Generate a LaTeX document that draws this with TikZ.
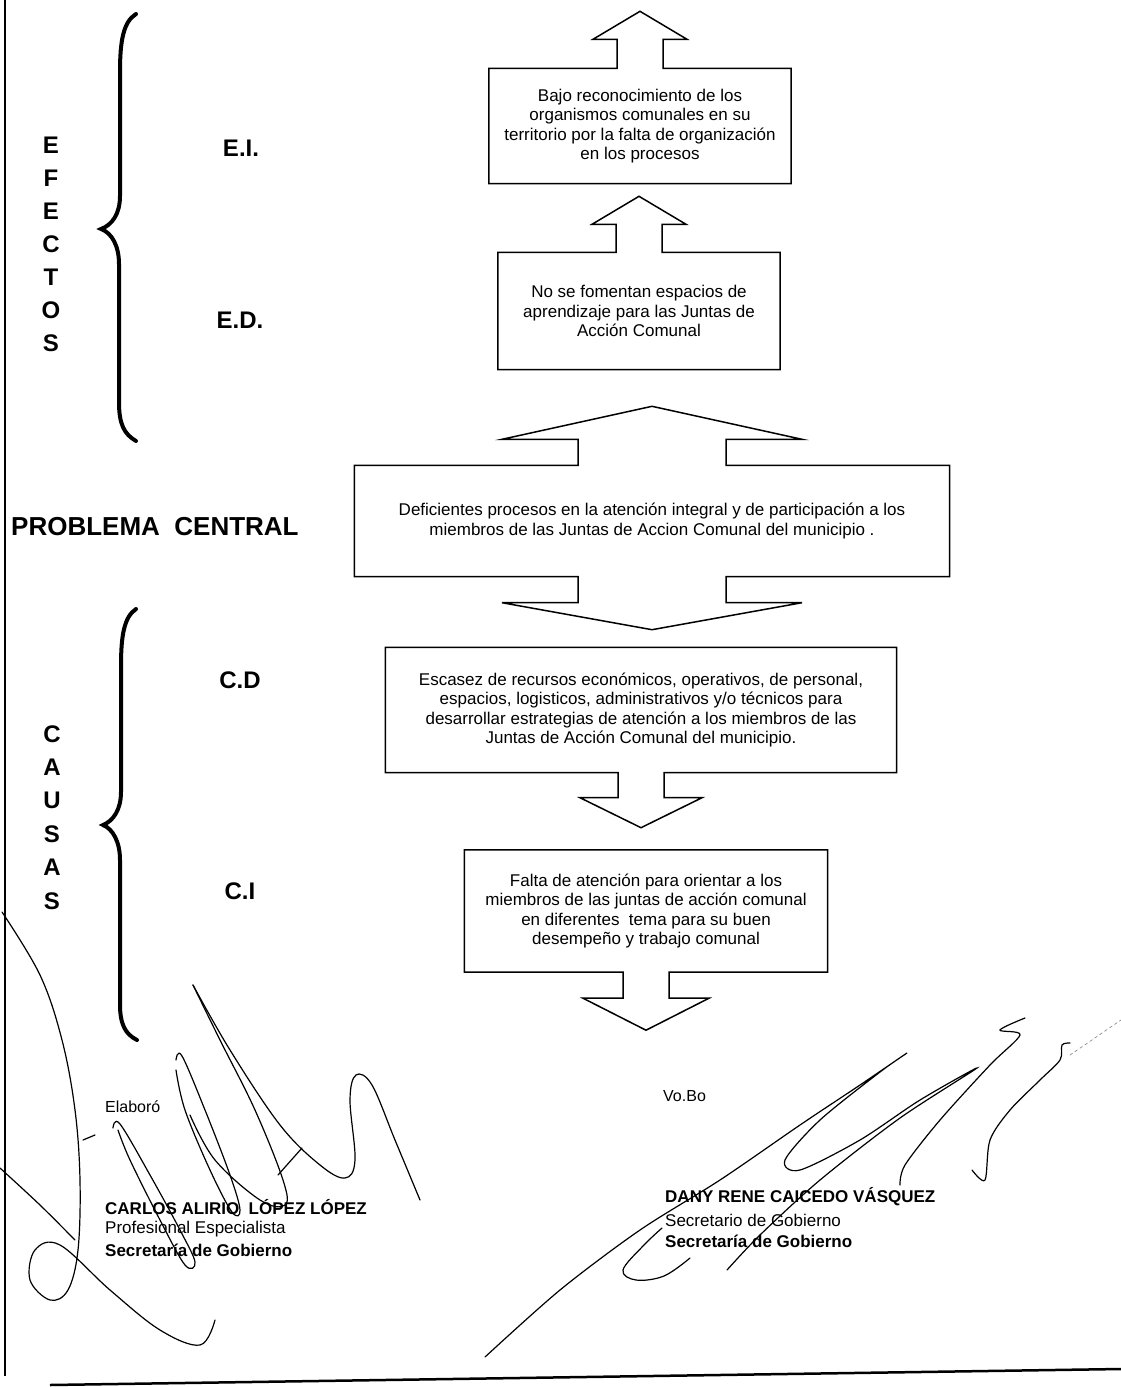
\documentclass[tikz,border=0pt]{standalone}
\usepackage{fontspec}
\setmainfont{Liberation Sans}
\usetikzlibrary{calc}

\begin{document}
\begin{tikzpicture}[x=1pt,y=-1pt]
      \tikzset{
        caja/.style={inner sep=0,align=center,font=\fontsize{17}{19.5}\selectfont},
        contorno/.style={line width=1.5pt,line join=miter},
        etiqueta/.style={inner sep=0,font=\fontsize{24}{26}\selectfont\bfseries},
        llave/.style={line width=4pt,line cap=round},
        firma/.style={line width=1.2pt,line cap=round},
        pie/.style={anchor=west,inner sep=0,font=\fontsize{17}{19}\selectfont}
      }
      \colorlet{mygray}{black!45}

      % nodo, medio tallo, media punta, largo tallo, largo punta
      \def\cajaarriba#1#2#3#4#5{\draw[contorno] (#1.north west) -- ($(#1.north)+(-#2,0)$)
        -- ++(0,-#4) -- ++(#2-#3,0) -- ($(#1.north)+(0,-#4-#5)$) -- ($(#1.north)+(#3,-#4)$)
        -- ++(#2-#3,0) -- ($(#1.north)+(#2,0)$) -- (#1.north east) -- (#1.south east)
        -- (#1.south west) -- cycle;}
      \def\cajaabajo#1#2#3#4#5{\draw[contorno] (#1.south west) -- ($(#1.south)+(-#2,0)$)
        -- ++(0,#4) -- ++(#2-#3,0) -- ($(#1.south)+(0,#4+#5)$) -- ($(#1.south)+(#3,#4)$)
        -- ++(#2-#3,0) -- ($(#1.south)+(#2,0)$) -- (#1.south east) -- (#1.north east)
        -- (#1.north west) -- cycle;}

      \useasboundingbox (0,0) rectangle (1121,1387);

      % MARGIN
      \draw[line width=2pt] (5,0) -- (5,1376);
      \draw[line width=2.5pt] (50,1385) -- (1121,1369);

      % BOXES
      \node[caja,minimum width=302,minimum height=115] (ei) at (640,126)
        {Bajo reconocimiento de los\\organismos comunales en su\\territorio por la falta de organización\\en los procesos};
      \node[caja,minimum width=282,minimum height=117] (ed) at (639,311)
        {No se fomentan espacios de\\aprendizaje para las Juntas de\\Acción Comunal};
      \node[caja,minimum width=595,minimum height=111] (pc) at (652,521)
        {Deficientes procesos en la atención integral y de participación a los\\miembros de las Juntas de Accion Comunal del municipio .};
      \node[caja,minimum width=511,minimum height=125] (cd) at (641,710)
        {Escasez de recursos económicos, operativos, de personal,\\espacios, logisticos, administrativos y/o técnicos para\\desarrollar estrategias de atención a los miembros de las\\Juntas de Acción Comunal del municipio.};
      \node[caja,minimum width=363,minimum height=122] (ci) at (646,911)
        {Falta de atención para orientar a los\\miembros de las juntas de acción comunal\\en diferentes \ tema para su buen\\desempeño y trabajo comunal};

      % ARROWS
      \cajaarriba{ei}{23}{47}{29}{28}
      \cajaarriba{ed}{23}{47}{28}{28}
      \draw[contorno] (pc.north west) -- ($(pc.north)+(-74,0)$) -- ++(0,-26) -- ++(-76,0)
        -- ($(pc.north)+(0,-59)$) -- ($(pc.north)+(150,-26)$) -- ++(-76,0) -- ($(pc.north)+(74,0)$)
        -- (pc.north east) -- (pc.south east) -- ($(pc.south)+(74,0)$) -- ++(0,26) -- ++(76,0)
        -- ($(pc.south)+(0,53)$) -- ($(pc.south)+(-150,26)$) -- ++(76,0) -- ($(pc.south)+(-74,0)$)
        -- (pc.south west) -- cycle;
      \cajaabajo{cd}{23}{61}{25}{30}
      \cajaabajo{ci}{23}{63}{26}{32}

      % LABELS
      \node[etiqueta] (lei) at (241,148) {E.I.};
      \node[etiqueta] (led) at (240,320) {E.D.};
      \node[etiqueta] (lcd) at (240,680) {C.D};
      \node[etiqueta] (lci) at (240,891) {C.I};
      \node[etiqueta,anchor=west,font=\fontsize{26}{28}\selectfont\bfseries] (lpc) at (11,527)
        {PROBLEMA\ \ CENTRAL};
      \foreach \l [count=\i] in {E,F,E,C,T,O,S}
        \node[etiqueta] (ef\i) at (51,{145+33*(\i-1)}) {\l};
      \foreach \l [count=\i] in {C,A,U,S,A,S}
        \node[etiqueta] (ca\i) at (52,{734+33.4*(\i-1)}) {\l};

      % BRACES
      \draw[llave] (136,14) .. controls (123,22) and (120,42) .. (120,72) -- (120,196)
        .. controls (120,214) and (112,225) .. (101,229) .. controls (112,233) and (119,246) .. (119,264)
        -- (119,402) .. controls (119,424) and (124,434) .. (136,441);
      \draw[llave] (136,609) .. controls (124,617) and (121,636) .. (121,666) -- (121,792)
        .. controls (121,810) and (113,821) .. (103,825) .. controls (113,829) and (120,842) .. (120,860)
        -- (120,1004) .. controls (120,1024) and (125,1034) .. (137,1040);

      % SIGNATURES
      \node[pie,font=\fontsize{16}{18}\selectfont] (elab) at (105,1107) {Elaboró};
      \node[pie,font=\fontsize{17}{19}\selectfont\bfseries] (n1) at (105,1207) {CARLOS ALIRIO \ LÓPEZ LÓPEZ};
      \node[pie] (c1) at (105,1229) {Profesional Especialista};
      \node[pie,font=\fontsize{17}{19}\selectfont\bfseries] (s1) at (105,1250) {Secretaría de Gobierno};
      \node[pie,font=\fontsize{16}{18}\selectfont] (vobo) at (663,1096) {Vo.Bo};
      \node[pie,font=\fontsize{17}{19}\selectfont\bfseries] (n2) at (665,1197) {DANY RENE CAICEDO VÁSQUEZ};
      \node[pie] (c2) at (665,1220) {Secretario de Gobierno};
      \node[pie,font=\fontsize{17}{19}\selectfont\bfseries] (s2) at (665,1241) {Secretaría de Gobierno};

      \draw[firma] plot[smooth,tension=.6] coordinates {(2,912) (40,975) (62,1040) (75,1110) (80,1180)
        (78,1250) (68,1290) (50,1300) (30,1280) (35,1250) (60,1245) (110,1290) (160,1330) (200,1345) (215,1320)};
      \draw[firma] plot[smooth] coordinates {(0,1168) (40,1205) (75,1240)};
      \draw[firma] plot[smooth,tension=.6] coordinates {(113,1128) (120,1124) (150,1175) (180,1230)
        (195,1262) (185,1265) (160,1220) (130,1160) (118,1130)};
      \draw[firma] plot[smooth,tension=.6] coordinates {(176,1060) (182,1056) (205,1110) (230,1175)
        (240,1210) (232,1212) (210,1170) (185,1110) (176,1070)};
      \draw[firma] plot[smooth,tension=.6] coordinates {(190,1115) (215,1160) (260,1200) (285,1205)
        (283,1180) (255,1110) (220,1040) (193,985)};
      \draw[firma] plot[smooth,tension=.6] coordinates {(193,985) (230,1050) (280,1125) (320,1165)
        (345,1178) (355,1160) (350,1100) (356,1075) (372,1085) (395,1140) (420,1200)};
      \draw[firma] (278,1175) -- (302,1148);
      \draw[firma] (83,1140) -- (95,1135);

      \draw[firma] plot[smooth,tension=.5] coordinates {(485,1357) (560,1290) (640,1230) (720,1180)
        (800,1125) (860,1085) (907,1053) (880,1072) (820,1120) (785,1160) (800,1170) (860,1140)
        (920,1100) (977,1068) (900,1118) (820,1180) (760,1235) (727,1270)};
      \draw[firma] plot[smooth,tension=.6] coordinates {(662,1228) (643,1246) (623,1270) (636,1280)
        (664,1276) (690,1258)};
      \draw[firma] plot[smooth,tension=.5] coordinates {(900,1185) (905,1165) (940,1120) (990,1065)
        (1020,1035) (1000,1030) (1025,1018)};
      \draw[firma] plot[smooth,tension=.5] coordinates {(972,1170) (985,1180) (990,1140) (1010,1110)
        (1040,1080) (1060,1060) (1062,1045) (1070,1043)};
      \draw[firma,mygray,line width=.7pt,dashed] (1070,1055) -- (1121,1020);

\end{tikzpicture}
\end{document}
